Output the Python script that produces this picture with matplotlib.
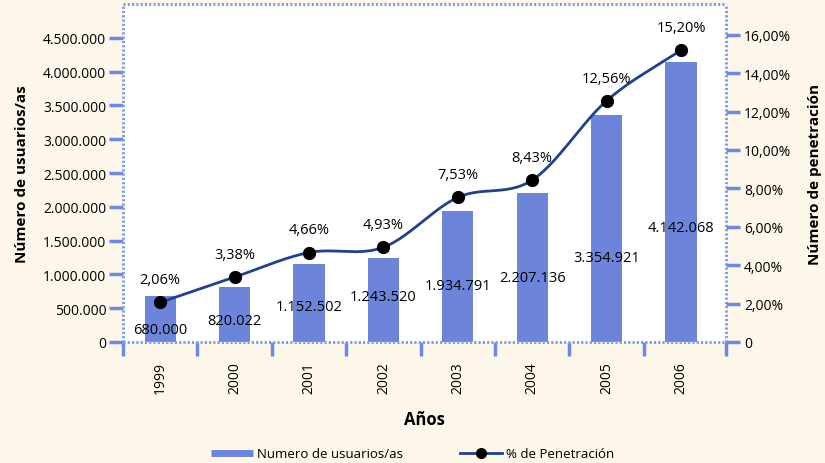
import numpy as np
import matplotlib
matplotlib.use("Agg")
import matplotlib.pyplot as plt
from matplotlib.lines import Line2D

# ---- data ----
years = ["1999", "2000", "2001", "2002", "2003", "2004", "2005", "2006"]
usuarios = [680000, 820022, 1152502, 1243520, 1934791, 2207136, 3354921, 4142068]
penetracion = [2.06, 3.38, 4.66, 4.93, 7.53, 8.43, 12.56, 15.20]
left_ticks = [0, 500000, 1000000, 1500000, 2000000, 2500000, 3000000, 3500000, 4000000, 4500000]
right_ticks = [0, 2, 4, 6, 8, 10, 12, 14, 16]

# label heights for the bar value labels (layout only)
bar_label_y = [192000, 311000, 518000, 680000, 843000, 961000, 1257000, 1700000]

FONT = ["Open Sans", "DejaVu Sans"]
plt.rcParams['font.family'] = FONT

BG = "#fdf6ea"
BAR = "#6d84db"
AXC = "#6f88e0"
DOT = "#7fa0e8"
LINE = "#23408e"

def fmt_int(v):
    if v == 0:
        return "0"
    return f"{v:,}".replace(",", ".")

def fmt_pct(v, dec=2):
    return f"{v:.{dec}f}".replace(".", ",") + "%"

fig = plt.figure(figsize=(8.25, 4.64), dpi=100, facecolor=BG)
ax = fig.add_axes([123/825, 1-343/464, (726-123)/825, (343-5)/464])
ax.set_facecolor("white")

x = np.arange(len(years))
ax.bar(x, usuarios, width=0.42, color=BAR, zorder=2)
ax.set_xlim(-0.5, 7.605)
ax.set_ylim(0, 5000000)
ax.set_yticks(left_ticks)
ax.set_yticklabels([fmt_int(v) for v in left_ticks], fontsize=10)

# category ticks
bounds = list(np.arange(-0.5, 7.0, 1.0)) + [7.605]
ax.set_xticks(bounds)
ax.set_xticklabels([])
ax.set_xticks(x, minor=True)
ax.set_xticklabels(years, minor=True, rotation=90, fontsize=10)
ax.tick_params(axis="x", which="major", direction="out", length=10, width=2.5, color=AXC)
ax.tick_params(axis="x", which="minor", length=10, width=0, pad=4)
ax.tick_params(axis="y", direction="out", length=10, width=2.5, color=AXC, pad=2)

for s in ax.spines.values():
    s.set_linestyle((0, (0.7, 0.7)))
    s.set_color(DOT)
    s.set_linewidth(2.2)
    s.set_capstyle("butt")

for xi, v, ly in zip(x, usuarios, bar_label_y):
    ax.text(xi, ly, fmt_int(v), ha="center", va="center", fontsize=10.5, color="black", zorder=5)

ax.set_xlabel("Años", fontsize=12, fontweight="bold", labelpad=12)
ax.set_ylabel("Número de usuarios/as", fontsize=11, fontweight="bold", labelpad=10)

# secondary axis
ax2 = ax.twinx()
ax2.set_ylim(0, 17.6)
ax2.set_yticks(right_ticks)
ax2.set_yticklabels([fmt_pct(v) if v else "0" for v in right_ticks], fontsize=10)
ax2.tick_params(axis="y", direction="out", length=10, width=2.5, color=AXC, pad=3)
for s in ax2.spines.values():
    s.set_visible(False)
ax2.set_ylabel("Número de penetración", fontsize=11, fontweight="bold", labelpad=12)

# smooth (Catmull-Rom) curve through the points
px = x.astype(float)
py = np.array(penetracion, dtype=float)
P = np.column_stack([px, py])
P_ext = np.vstack([P[0] - (P[1] - P[0]), P, P[-1] + (P[-1] - P[-2])])
curve = []
for i in range(1, len(P_ext) - 2):
    p0, p1, p2, p3 = P_ext[i-1], P_ext[i], P_ext[i+1], P_ext[i+2]
    t = np.linspace(0, 1, 30)[:, None]
    seg = 0.5 * ((2*p1) + (-p0 + p2)*t + (2*p0 - 5*p1 + 4*p2 - p3)*t**2 + (-p0 + 3*p1 - 3*p2 + p3)*t**3)
    curve.append(seg)
curve = np.vstack(curve)
ax2.plot(curve[:, 0], curve[:, 1], color=LINE, lw=2, zorder=3, solid_capstyle="round")
ax2.plot(px, py, "o", color="black", markersize=8.5, zorder=4)
for xi, v in zip(px, py):
    ax2.annotate(fmt_pct(v), (xi, v), xytext=(0, 11), textcoords="offset points",
                 ha="center", va="bottom", fontsize=10.5)

# legend
h1 = Line2D([0], [0], color=BAR, lw=5, solid_capstyle="butt")
h2 = Line2D([0], [0], color=LINE, lw=2, marker="o", markerfacecolor="black",
            markeredgecolor="black", markersize=7)
fig.legend([h1, h2], ["Numero de usuarios/as", "% de Penetración"], loc="lower center",
           bbox_to_anchor=(0.5, -0.02), ncol=2, frameon=False, fontsize=9.5,
           handlelength=3.2, handletextpad=0.3, columnspacing=4.3)

fig.savefig("out.png", dpi=100, facecolor=BG)
